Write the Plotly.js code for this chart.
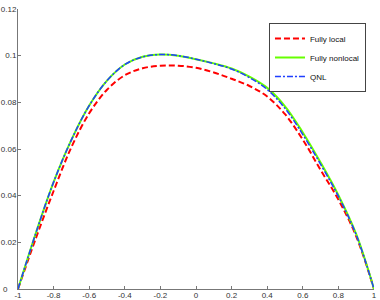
<!DOCTYPE html>
<html>
<head>
<meta charset="utf-8">
<script src="https://cdn.plot.ly/plotly-3.0.1.min.js"></script>
<style>html,body{margin:0;padding:0;background:#fff;}#chart{width:380px;height:300px;}</style>
</head>
<body>
<div id="chart"></div>
<script>
const xValues = [-1, -0.9, -0.8, -0.7, -0.6, -0.5, -0.4, -0.3, -0.2, -0.1, 0, 0.1, 0.2, 0.3, 0.4, 0.5, 0.6, 0.7, 0.8, 0.9, 1];
const fullyLocal = [0, 0.0217, 0.0420, 0.0608, 0.0753, 0.0854, 0.0916, 0.0946, 0.0957, 0.0957, 0.0948, 0.0928, 0.0901, 0.0870, 0.0825, 0.0749, 0.0640, 0.0510, 0.0383, 0.0226, 0];
const fullyNonlocal = [0, 0.0239, 0.0458, 0.0639, 0.0786, 0.0893, 0.0962, 0.0995, 0.1005, 0.1000, 0.0985, 0.0967, 0.0945, 0.0910, 0.0862, 0.0783, 0.0671, 0.0542, 0.0402, 0.0235, 0];
const qnl = [0, 0.0239, 0.0458, 0.0639, 0.0786, 0.0893, 0.0962, 0.0995, 0.1005, 0.1000, 0.0985, 0.0966, 0.0943, 0.0906, 0.0855, 0.0774, 0.0662, 0.0534, 0.0397, 0.0232, 0];
const seriesNames = ["Fully local", "Fully nonlocal", "QNL"];
const xTicks = [-1, -0.8, -0.6, -0.4, -0.2, 0, 0.2, 0.4, 0.6, 0.8, 1];
const xTickText = ["-1", "-0.8", "-0.6", "-0.4", "-0.2", "0", "0.2", "0.4", "0.6", "0.8", "1"];
const yTicks = [0, 0.02, 0.04, 0.06, 0.08, 0.1, 0.12];
const yTickText = ["0\u2007\u2007", "0.02", "0.04", "0.06", "0.08", "0.1", "0.12"];

const traces = [
  {x: xValues, y: fullyLocal, name: seriesNames[0], mode: "lines",
   line: {color: "#ff0000", width: 2, dash: "6px,3px", shape: "spline", smoothing: 1}},
  {x: xValues, y: fullyNonlocal, name: seriesNames[1], mode: "lines",
   line: {color: "#66ff00", width: 2, shape: "spline", smoothing: 1}},
  {x: xValues, y: qnl, name: seriesNames[2], mode: "lines",
   line: {color: "#1f3fff", width: 1.5, dash: "6px,2px,2px,2px", shape: "spline", smoothing: 1}}
];

const axisCommon = {
  showgrid: false, zeroline: false, showline: true, linecolor: "#777", linewidth: 1,
  ticks: "inside", ticklen: 3, tickcolor: "#777", mirror: false,
  tickfont: {family: "Liberation Sans, Arial, sans-serif", size: 8, color: "#333"}
};

const layout = {
  width: 380, height: 300,
  margin: {l: 18, r: 6, t: 9, b: 11, pad: 0},
  paper_bgcolor: "#fff", plot_bgcolor: "#fff",
  showlegend: true,
  xaxis: Object.assign({}, axisCommon, {range: [-1, 1], tickmode: "array", tickvals: xTicks, ticktext: xTickText, ticklabelstandoff: -2}),
  yaxis: Object.assign({}, axisCommon, {range: [0, 0.12], tickmode: "array", tickvals: yTicks, ticktext: yTickText, ticklabelstandoff: -1}),
  legend: {x: 0.705, y: 0.95, xanchor: "left", yanchor: "top",
    bgcolor: "#fff", bordercolor: "#444", borderwidth: 1,
    font: {family: "Liberation Sans, Arial, sans-serif", size: 8, color: "#111"},
    itemwidth: 30, tracegroupgap: 0}
};

Plotly.newPlot("chart", traces, layout, {displayModeBar: false, staticPlot: true});
</script>
</body>
</html>
